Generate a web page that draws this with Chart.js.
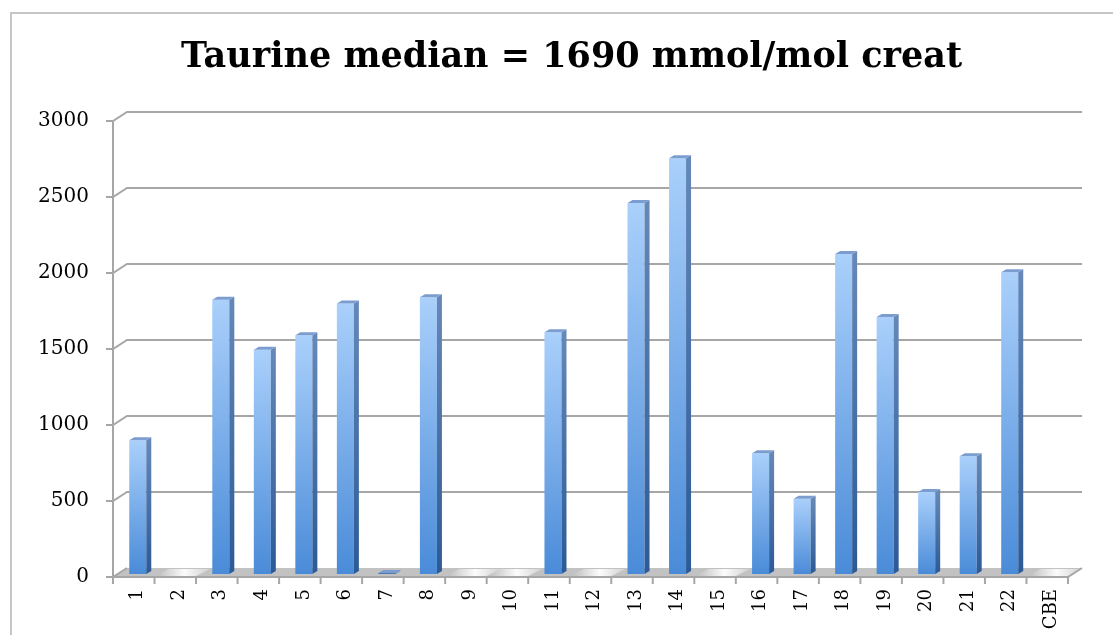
<!DOCTYPE html>
<html>
<head>
<meta charset="utf-8">
<script src="https://cdn.jsdelivr.net/npm/chart.js@4"></script>
<style>
  body { margin: 0; background: #fff; overflow: hidden; }
  #frame {
    position: absolute; left: 10px; top: 12px; width: 1110px; height: 630px;
    border-top: 2px solid #c6c6c6; border-left: 2px solid #c6c6c6;
  }
  #myChart { position: absolute; left: 0; top: 0; }
</style>
</head>
<body>
<div id="frame"></div>
<canvas id="myChart" width="1113" height="635"></canvas>
<script>
var categories = ["1", "2", "3", "4", "5", "6", "7", "8", "9", "10", "11", "12",
  "13", "14", "15", "16", "17", "18", "19", "20", "21", "22", "CBE"];
var taurineValues = [880, null, 1805, 1475, 1570, 1780, 5, 1820, null, null, 1590, null,
  2440, 2735, null, 795, 495, 2105, 1690, 540, 775, 1985, null];
var yTickValues = [0, 500, 1000, 1500, 2000, 2500, 3000];

// offsets of the pseudo 3d walls relative to the bar plane
var FRONT = { dx: -4, dy: 3 };
var BACK = { dx: 10, dy: -6 };
var BAR_DEPTH = { dx: 5, dy: -3 };

function barGradient(context) {
  var chart = context.chart;
  var y = chart.scales.y;
  var v = context.raw;
  if (!chart.chartArea || !y || v == null) return "#6fa6e8";
  var top = y.getPixelForValue(v);
  var base = y.getPixelForValue(0);
  if (base - top < 2) return "#4f77a8";
  var g = chart.ctx.createLinearGradient(0, top, 0, base);
  g.addColorStop(0, "#aad0fb");
  g.addColorStop(1, "#4a8bd8");
  return g;
}

var walls3d = {
  id: "walls3d",
  beforeDatasetsDraw: function (chart) {
    var ctx = chart.ctx;
    var x = chart.scales.x;
    var y = chart.scales.y;
    var left = chart.chartArea.left;
    var right = chart.chartArea.right;
    var y0 = y.getPixelForValue(0);
    var step = (right - left) / categories.length;
    ctx.save();

    // floor
    ctx.beginPath();
    ctx.moveTo(left + FRONT.dx, y0 + FRONT.dy);
    ctx.lineTo(right + FRONT.dx, y0 + FRONT.dy);
    ctx.lineTo(right + BACK.dx, y0 + BACK.dy);
    ctx.lineTo(left + BACK.dx, y0 + BACK.dy);
    ctx.closePath();
    ctx.fillStyle = "#c2c2c2";
    ctx.fill();

    // lighter floor where a category has no bar
    for (var i = 0; i < categories.length; i++) {
      if (taurineValues[i] != null) continue;
      var cx = x.getPixelForValue(i);
      var a = cx - step / 2, b = cx + step / 2;
      var g = ctx.createLinearGradient(a, 0, b + 6, 0);
      g.addColorStop(0, "rgba(255,255,255,0)");
      g.addColorStop(0.55, "rgba(255,255,255,0.95)");
      g.addColorStop(1, "rgba(255,255,255,0.35)");
      ctx.beginPath();
      ctx.moveTo(a + FRONT.dx, y0 + FRONT.dy - 1);
      ctx.lineTo(b + FRONT.dx, y0 + FRONT.dy - 1);
      ctx.lineTo(b + BACK.dx, y0 + BACK.dy + 1);
      ctx.lineTo(a + BACK.dx, y0 + BACK.dy + 1);
      ctx.closePath();
      ctx.fillStyle = g;
      ctx.fill();
    }

    ctx.strokeStyle = "#a6a6a6";
    ctx.lineWidth = 2;

    // back wall gridlines, side wall stubs and front ticks
    yTickValues.forEach(function (v) {
      var py = y.getPixelForValue(v);
      ctx.beginPath();
      ctx.moveTo(left + FRONT.dx - 7, py + FRONT.dy);
      ctx.lineTo(left + FRONT.dx, py + FRONT.dy);
      ctx.lineTo(left + BACK.dx, py + BACK.dy);
      if (v > 0) ctx.lineTo(right + BACK.dx, py + BACK.dy);
      ctx.stroke();
    });

    // front vertical axis
    ctx.beginPath();
    ctx.moveTo(left + FRONT.dx, y.getPixelForValue(3000) + FRONT.dy);
    ctx.lineTo(left + FRONT.dx, y0 + FRONT.dy + 7);
    ctx.stroke();

    // floor front edge and right edge
    ctx.beginPath();
    ctx.moveTo(left + FRONT.dx, y0 + FRONT.dy);
    ctx.lineTo(right + FRONT.dx, y0 + FRONT.dy);
    ctx.lineTo(right + BACK.dx, y0 + BACK.dy);
    ctx.stroke();

    // category tick marks
    for (var k = 0; k <= categories.length; k++) {
      var tx = left + FRONT.dx + k * step;
      ctx.beginPath();
      ctx.moveTo(tx, y0 + FRONT.dy);
      ctx.lineTo(tx, y0 + FRONT.dy + 7);
      ctx.stroke();
    }
    ctx.restore();
  },
  afterDatasetsDraw: function (chart) {
    var ctx = chart.ctx;
    var bars = chart.getDatasetMeta(0).data;
    ctx.save();
    bars.forEach(function (bar, i) {
      if (taurineValues[i] == null) return;
      var p = bar.getProps(["x", "y", "base", "width"], true);
      var l = p.x - p.width / 2;
      var r = p.x + p.width / 2;
      // side face
      var gs = ctx.createLinearGradient(0, p.y, 0, p.base);
      gs.addColorStop(0, "#6588b8");
      gs.addColorStop(1, "#2c5a96");
      ctx.beginPath();
      ctx.moveTo(r, p.y);
      ctx.lineTo(r + BAR_DEPTH.dx, p.y + BAR_DEPTH.dy);
      ctx.lineTo(r + BAR_DEPTH.dx, p.base + BAR_DEPTH.dy);
      ctx.lineTo(r, p.base);
      ctx.closePath();
      ctx.fillStyle = gs;
      ctx.fill();
      // top face
      ctx.beginPath();
      ctx.moveTo(l, p.y);
      ctx.lineTo(l + BAR_DEPTH.dx, p.y + BAR_DEPTH.dy);
      ctx.lineTo(r + BAR_DEPTH.dx, p.y + BAR_DEPTH.dy);
      ctx.lineTo(r, p.y);
      ctx.closePath();
      ctx.fillStyle = "#7b9dcf";
      ctx.fill();
    });
    ctx.restore();
  }
};

document.addEventListener("DOMContentLoaded", function () {
  var ctx = document.getElementById("myChart").getContext("2d");
  var myChart = new Chart(ctx, {
    type: "bar",
    data: {
      labels: categories,
      datasets: [
        {
          data: taurineValues,
          backgroundColor: barGradient,
          borderWidth: 0,
          barPercentage: 0.41,
          categoryPercentage: 1,
          minBarLength: 1,
        },
      ],
    },
    options: {
      responsive: false,
      animation: false,
      layout: { padding: { left: 71, right: 41, top: 0, bottom: 0 } },
      plugins: {
        legend: { display: false },
        tooltip: { enabled: false },
        title: {
          display: true,
          text: "Taurine median = 1690 mmol/mol creat",
          color: "#000",
          font: { family: "DejaVu Serif", size: 35, weight: "bold", lineHeight: 1.2 },
          padding: { top: 37, bottom: 39 },
        },
      },
      scales: {
        x: {
          grid: { display: false, drawTicks: false },
          border: { display: false },
          ticks: {
            color: "#000",
            font: { family: "DejaVu Serif", size: 18 },
            minRotation: 90,
            maxRotation: 90,
            padding: 15,
            autoSkip: false,
          },
          afterFit: function (scale) { scale.height = 61; },
        },
        y: {
          min: 0,
          max: 3000,
          grid: { display: false, drawTicks: false },
          border: { display: false },
          ticks: {
            stepSize: 500,
            color: "#000",
            font: { family: "DejaVu Serif", size: 20 },
            mirror: true,
            crossAlign: "far",
            padding: -79,
            labelOffset: 3,
            callback: function (value) { return String(value); },
          },
          afterFit: function (scale) { scale.width = 46; },
        },
      },
    },
    plugins: [walls3d],
  });
});
</script>
</body>
</html>
